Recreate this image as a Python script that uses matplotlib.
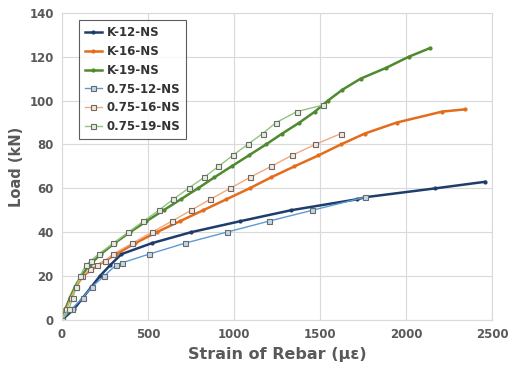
import matplotlib
matplotlib.use("Agg")
import matplotlib.pyplot as plt

# data: strain (micro-strain) vs load (kN)
k12_x = [0, 70, 120, 170, 220, 280, 345, 522, 750, 1035, 1330, 1713, 1767, 2170, 2460]
k12_y = [0, 5, 10, 15, 20, 25, 30, 35, 40, 45, 50, 55, 56, 60, 63]

k16_x = [0, 20, 50, 80, 120, 210, 315, 425, 550, 685, 820, 955, 1090, 1215, 1350,
         1490, 1620, 1760, 1945, 2210, 2340]
k16_y = [0, 5, 10, 15, 20, 25, 30, 35, 40, 45, 50, 55, 60, 65, 70, 75, 80, 85, 90, 95, 96]

k19_x = [0, 20, 45, 75, 110, 160, 225, 305, 395, 490, 590, 690, 790, 885, 985, 1085,
         1185, 1280, 1380, 1470, 1545, 1630, 1735, 1885, 2015, 2140]
k19_y = [0, 5, 10, 15, 20, 25, 30, 35, 40, 45, 50, 55, 60, 65, 70, 75, 80, 85, 90, 95,
         100, 105, 110, 115, 120, 124]

s12_x = [0, 55, 120, 172, 245, 313, 347, 506, 715, 957, 1200, 1455, 1762]
s12_y = [0, 5, 10, 15, 20, 25, 26, 30, 35, 40, 45, 50, 56]

s16_x = [0, 25, 50, 80, 118, 163, 202, 251, 296, 409, 522, 638, 750, 861, 977, 1092,
         1215, 1335, 1471, 1622]
s16_y = [0, 5, 10, 15, 20, 23, 25, 27, 30, 35, 40, 45, 50, 55, 60, 65, 70, 75, 80, 85]

s19_x = [0, 40, 62, 82, 104, 138, 167, 212, 299, 385, 473, 562, 646, 735, 825, 909,
         992, 1078, 1166, 1244, 1365, 1519]
s19_y = [0, 5, 10, 15, 20, 25, 27, 30, 35, 40, 45, 50, 55, 60, 65, 70, 75, 80, 85, 90,
         95, 98]

grey = "#595959"

fig = plt.figure(figsize=(5.17, 3.69), dpi=100)
ax = fig.add_axes([0.12, 0.133, 0.832, 0.832])

ax.plot(k12_x, k12_y, color="#1f3d6b", lw=1.8, marker="o", ms=2, label="K-12-NS")
ax.plot(k16_x, k16_y, color="#e36c1d", lw=1.8, marker="o", ms=2, label="K-16-NS")
ax.plot(k19_x, k19_y, color="#4f8a2e", lw=1.8, marker="o", ms=2, label="K-19-NS")
sq = dict(marker="s", ms=3.6, mew=0.8, mec="#6a6a6a", lw=1.0)
ax.plot(s12_x, s12_y, color="#5b9bd5", mfc="#bdd7ee", label="0.75-12-NS", **sq)
ax.plot(s16_x, s16_y, color="#f4a77a", mfc="#fbe5d6", label="0.75-16-NS", **sq)
ax.plot(s19_x, s19_y, color="#93c47d", mfc="#e2f0d9", label="0.75-19-NS", **sq)

ax.set_xlim(0, 2500)
ax.set_ylim(0, 140)
ax.set_xticks(range(0, 2501, 500))
ax.set_yticks(range(0, 141, 20))
ax.grid(color="#d9d9d9", lw=0.8)
ax.set_axisbelow(True)
for s in ax.spines.values():
    s.set_color("#d9d9d9")
ax.tick_params(length=0, labelsize=8.5, colors=grey, pad=6)
for t in ax.get_xticklabels() + ax.get_yticklabels():
    t.set_fontweight("bold")

ax.set_xlabel("Strain of Rebar (\u03bc\u03b5)", fontsize=11.5, fontweight="bold", color=grey, labelpad=4)
ax.set_ylabel("Load (kN)", fontsize=10.5, fontweight="bold", color=grey, labelpad=4)

leg = ax.legend(loc="upper left", bbox_to_anchor=(0.04, 0.977), borderaxespad=0,
                fontsize=8.5, frameon=True, fancybox=False, handlelength=1.4,
                handletextpad=0.4, labelspacing=0.5, borderpad=0.5)
leg.get_frame().set_edgecolor("#333333")
leg.get_frame().set_linewidth(0.8)
for t in leg.get_texts():
    t.set_fontweight("bold")
    t.set_color("#333333")

fig.savefig("out.png", dpi=100)
